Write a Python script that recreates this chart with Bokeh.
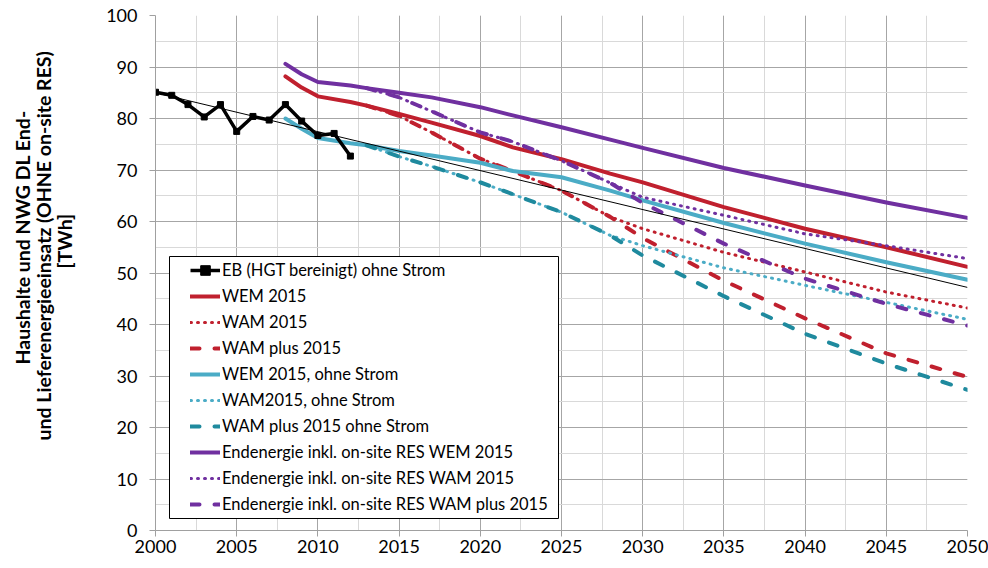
from bokeh.plotting import figure
from bokeh.models import (Legend, LegendItem, BoxAnnotation, Title,
                          SingleIntervalTicker)
from bokeh.embed import file_html
from bokeh.resources import INLINE

# ---------------- data ----------------
hist_years = [2000, 2001, 2002, 2003, 2004, 2005, 2006, 2007, 2008, 2009, 2010, 2011, 2012]
hist_vals = [85.1, 84.5, 82.7, 80.3, 82.7, 77.5, 80.4, 79.7, 82.7, 79.5, 76.7, 77.1, 72.7]

trend_years = [2000, 2050]
trend_vals = [85.0, 47.2]

proj_years = [2008, 2009, 2010, 2012, 2013, 2015, 2017, 2020, 2022, 2025, 2028, 2030, 2035, 2040, 2045, 2050]
wam_years = [2013, 2015, 2017, 2020, 2022, 2025, 2028, 2030, 2035, 2040, 2045, 2050]

wem = [88.2, 86.0, 84.3, 83.2, 82.5, 80.9, 79.2, 76.6, 74.4, 72.1, 69.3, 67.6, 62.8, 58.6, 55.0, 51.2]
wam = [82.5, 80.5, 77.3, 72.2, 69.8, 66.0, 60.9, 58.6, 54.0, 50.2, 46.3, 43.2]
wam_plus = [82.5, 80.5, 77.3, 72.2, 69.8, 66.0, 60.9, 56.8, 48.5, 41.2, 34.4, 29.8]

wem_os = [80.0, 78.0, 76.2, 75.2, 74.8, 73.7, 72.8, 71.4, 69.8, 68.6, 66.0, 64.1, 59.7, 55.7, 52.1, 48.7]
wam_os = [74.8, 72.6, 70.7, 67.6, 65.3, 61.8, 57.3, 55.3, 51.0, 47.6, 44.3, 41.0]
wam_plus_os = [74.8, 72.6, 70.7, 67.6, 65.3, 61.8, 57.3, 53.4, 45.5, 38.2, 32.4, 27.3]

res_wem = [90.6, 88.6, 87.1, 86.4, 85.9, 85.0, 84.1, 82.2, 80.6, 78.3, 75.9, 74.3, 70.4, 67.0, 63.7, 60.7]
res_wam = [85.9, 84.1, 81.4, 77.3, 75.5, 71.8, 67.5, 64.7, 61.2, 57.6, 55.3, 52.8]
res_wam_plus = [85.9, 84.1, 81.4, 77.3, 75.5, 71.8, 67.5, 63.6, 55.7, 48.9, 44.0, 39.8]

labels = [
    "EB (HGT bereinigt) ohne Strom",
    "WEM 2015",
    "WAM 2015",
    "WAM plus 2015",
    "WEM 2015, ohne Strom",
    "WAM2015, ohne Strom",
    "WAM plus 2015 ohne Strom",
    "Endenergie inkl. on-site RES WEM 2015",
    "Endenergie inkl. on-site RES WAM 2015",
    "Endenergie inkl. on-site RES WAM plus 2015",
]
y_title_lines = ["Haushalte und NWG DL End-",
                 "und Lieferenergieeinsatz (OHNE on-site RES)",
                 "[TWh]"]

# ---------------- styles ----------------
FONT = "Lato"
RED = "#C0202E"
LBLUE = "#4BACC6"
TEAL = "#1F8A9E"
PURPLE = "#7030A0"
DOT = "1 6"
DASH = "9 15"
W = 4

p = figure(width=988, height=568, x_range=(2000, 2050), y_range=(0, 100),
           output_backend="svg", toolbar_location=None,
           min_border_left=155, min_border_right=21,
           min_border_top=15, min_border_bottom=38)
p.outline_line_color = None
p.background_fill_color = "white"

p.xaxis.ticker = SingleIntervalTicker(interval=5, num_minor_ticks=2)
p.yaxis.ticker = SingleIntervalTicker(interval=10, num_minor_ticks=2)
for ax in (p.xaxis, p.yaxis):
    ax.axis_line_color = "#A0A0A0"
    ax.major_tick_line_color = "#A0A0A0"
    ax.minor_tick_line_color = None
    ax.major_tick_in = 0
    ax.major_tick_out = 6
    ax.major_label_text_font = FONT
    ax.major_label_text_font_size = "18px"
    ax.major_label_text_color = "black"
p.xaxis.major_label_standoff = 3
p.yaxis.major_label_standoff = 12
# invisible spacer between tick labels and the title lines
p.yaxis.axis_label = " "
p.yaxis.axis_label_text_font_size = "1px"
p.yaxis.axis_label_standoff = 26

for g in (p.xgrid, p.ygrid):
    g.grid_line_color = "#A6A6A6"
    g.minor_grid_line_color = "#D9D9D9"

def ln(x, y, color, dash="solid", width=W):
    return p.line(x, y, line_color=color, line_width=width, line_dash=dash,
                  line_cap="round", line_join="round")

r_wem = ln(proj_years, wem, RED)
r_wam = ln(wam_years, wam, RED, DOT, 3)
r_wamp = ln(wam_years, wam_plus, RED, DASH)
r_wemo = ln(proj_years, wem_os, LBLUE)
r_wamo = ln(wam_years, wam_os, LBLUE, DOT, 3)
r_wampo = ln(wam_years, wam_plus_os, TEAL, DASH)
r_res = ln(proj_years, res_wem, PURPLE)
r_resw = ln(wam_years, res_wam, PURPLE, DOT, 3)
r_resp = ln(wam_years, res_wam_plus, PURPLE, DASH)

r_hist_l = p.line(hist_years, hist_vals, line_color="black", line_width=3.5,
                  line_join="round")
r_hist_m = p.scatter(hist_years, hist_vals, marker="square", size=6,
                     fill_color="black", line_color="black")
p.line(trend_years, trend_vals, line_color="black", line_width=1)

# legend frame
box = BoxAnnotation(left=14, right=403, top=274, bottom=12,
                    left_units="screen", right_units="screen",
                    top_units="screen", bottom_units="screen",
                    fill_color="white", fill_alpha=1.0,
                    line_color="black", line_width=1, line_alpha=1.0)
p.add_layout(box)

renders = [[r_hist_l, r_hist_m], [r_wem], [r_wam], [r_wamp], [r_wemo],
           [r_wamo], [r_wampo], [r_res], [r_resw], [r_resp]]
items = [LegendItem(label=lab, renderers=rr) for lab, rr in zip(labels, renders)]
legend = Legend(items=items, location=(35, 14), padding=0, margin=0,
                border_line_color=None, background_fill_alpha=0.0,
                glyph_width=30, glyph_height=24, label_height=24,
                label_standoff=2, spacing=2,
                label_text_font=FONT, label_text_font_size="16.5px",
                label_text_color="black")
p.add_layout(legend, "center")

# y axis title: three single-line titles, innermost first, centred near y=240
title_offsets = {"[TWh]": 262, y_title_lines[1]: 90, y_title_lines[0]: 166}
for txt in reversed(y_title_lines):
    p.add_layout(Title(text=txt, align="left", offset=title_offsets[txt],
                       standoff=-4, text_font=FONT,
                       text_font_style="bold", text_font_size="19.5px",
                       text_color="black"), "left")

open("out.html", "w").write(file_html(p, INLINE))
